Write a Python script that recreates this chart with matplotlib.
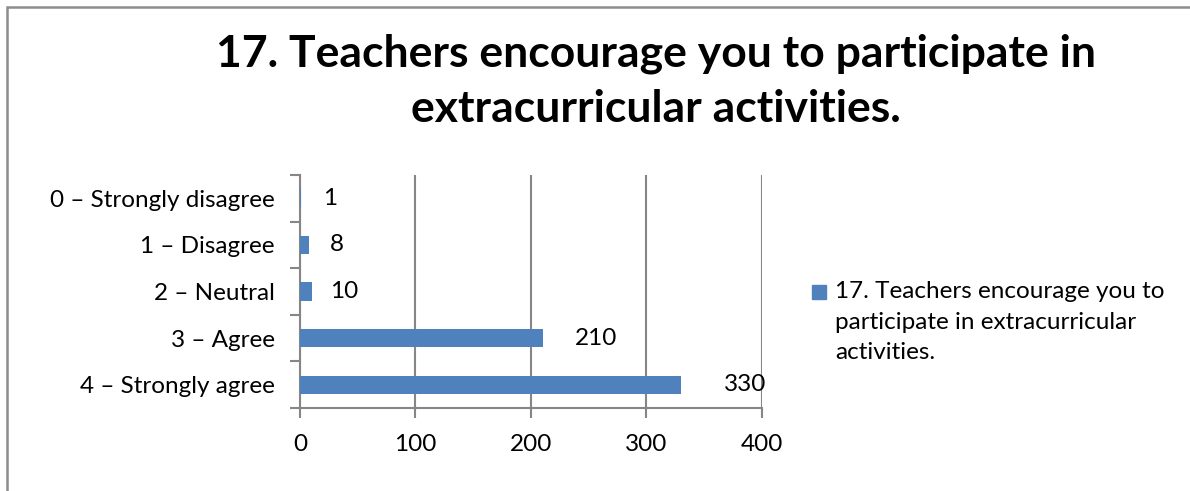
import numpy as np
import matplotlib
matplotlib.use('Agg')
import matplotlib.pyplot as plt
from matplotlib.patches import Rectangle

# Chart data
categories = ['0 – Strongly disagree', '1 – Disagree', '2 – Neutral', '3 – Agree', '4 – Strongly agree']
counts = [1, 8, 10, 210, 330]
series_name = '17. Teachers encourage you to\nparticipate in extracurricular\nactivities.'
title = '17. Teachers encourage you to participate in\nextracurricular activities.'
x_ticks = [0, 100, 200, 300, 400]

# label gap after bar end (points), as placed in the original
label_gap = [16, 15, 13, 23, 31]

plt.rcParams['font.family'] = ['Lato', 'DejaVu Sans']

bar_color = '#4F81BD'
grid_color = '#868686'
fs = 17.5

fig = plt.figure(figsize=(11.9, 4.91), dpi=100)
ax = fig.add_axes([0.2521, 0.169, 0.3882, 0.4746])

# outer chart border (left and top visible)
fig.patches.append(Rectangle((7 / 1190, -0.1), 1.2, 1 - 7 / 491 + 0.1, transform=fig.transFigure,
                             fill=False, edgecolor='#8c8c8c', linewidth=1.8))

y = np.arange(len(categories))
ax.barh(y, counts, height=0.39, color=bar_color, zorder=3)
ax.set_ylim(len(categories) - 0.5, -0.5)
ax.set_xlim(0, 400)

ax.set_xticks(x_ticks)
ax.set_xticklabels([str(t) for t in x_ticks], fontsize=fs)
ax.set_yticks(y)
ax.set_yticklabels(categories, fontsize=fs)
ax.set_yticks(np.arange(len(categories) + 1) - 0.5, minor=True)
ax.tick_params(axis='y', which='major', length=0, pad=18)
ax.tick_params(axis='y', which='minor', length=7, width=1.5, color=grid_color)
ax.tick_params(axis='x', which='major', length=7, width=1.5, color=grid_color, pad=12)

ax.grid(axis='x', color=grid_color, linewidth=1.5, zorder=0)
for s in ['top', 'right']:
    ax.spines[s].set_visible(False)
for s in ['left', 'bottom']:
    ax.spines[s].set_color(grid_color)
    ax.spines[s].set_linewidth(1.5)

for yi, v, g in zip(y, counts, label_gap):
    ax.annotate(str(v), (v, yi), xytext=(g, 0), textcoords='offset points',
                va='center', ha='left', fontsize=fs)

fig.text(0.551, 0.835, title, ha='center', va='center', fontsize=32,
         fontweight='bold', linespacing=1.46)

# legend
fig.patches.append(Rectangle((812 / 1190, 1 - 299 / 491), 14 / 1190, 14 / 491,
                             transform=fig.transFigure, color=bar_color))
fig.text(835 / 1190, 1 - 281 / 491, series_name, ha='left', va='top', fontsize=fs,
         linespacing=1.57)

fig.savefig('out.png', dpi=100)
